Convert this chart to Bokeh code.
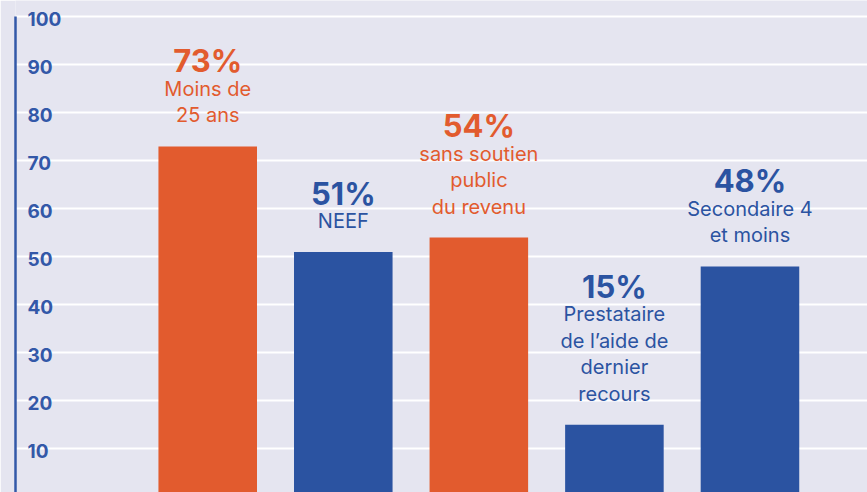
from bokeh.plotting import figure
from bokeh.models import ColumnDataSource, Range1d, FixedTicker
from bokeh.core.properties import value
from bokeh.embed import file_html
from bokeh.resources import INLINE

# ---- data ----
CATEGORIES = ["Moins de 25 ans", "NEEF", "Sans soutien public du revenu",
              "Prestataire de l’aide de dernier recours", "Secondaire 4 et moins"]
VALUES = [73, 51, 54, 15, 48]
PCT_LABELS = ["73%", "51%", "54%", "15%", "48%"]
SUB_LABELS = [["Moins de", "25 ans"],
              ["NEEF"],
              ["sans soutien", "public", "du revenu"],
              ["Prestataire", "de l’aide de", "dernier", "recours"],
              ["Secondaire 4", "et moins"]]
GROUPS = ["orange", "blue", "orange", "blue", "blue"]
Y_TICKS = [10, 20, 30, 40, 50, 60, 70, 80, 90, 100]
Y_TICK_LABELS = [str(t) for t in Y_TICKS]

# ---- style ----
BG = "#E5E5F0"
ORANGE = "#E25B2E"
BLUE = "#2B53A1"
AXIS_BLUE = "#3358A8"
FONT = "Inter"
W, H = 867, 492
X_START, X_END = -1.418, 4.867
Y_START, Y_END = 0.9, 103.4
GAP = 31      # px between bar top and last sub-label anchor
LH = 26.5     # sub-label line height
PL = 28       # pct anchor to first sub-label anchor

COLORS = {"orange": ORANGE, "blue": BLUE}
X = list(range(len(CATEGORIES)))

p = figure(width=W, height=H, output_backend="svg", toolbar_location=None,
           x_range=Range1d(X_START, X_END), y_range=Range1d(Y_START, Y_END),
           min_border_left=15, min_border_right=0, min_border_top=0, min_border_bottom=0)
p.background_fill_color = BG
p.border_fill_color = BG
p.outline_line_color = None

p.xaxis.visible = False
p.xgrid.visible = False

p.yaxis.ticker = FixedTicker(ticks=[])
p.yaxis.major_tick_line_color = None
p.yaxis.minor_tick_line_color = None
p.yaxis.major_label_text_font_size = "0px"
p.yaxis.major_label_standoff = 0
p.yaxis.axis_line_color = AXIS_BLUE
p.yaxis.axis_line_width = 2.5
p.yaxis.bounds = (0, Y_TICKS[-1])

p.ygrid.ticker = FixedTicker(ticks=Y_TICKS)
p.ygrid.grid_line_color = "white"
p.ygrid.grid_line_width = 2

bars = ColumnDataSource(dict(x=X, top=VALUES, color=[COLORS[g] for g in GROUPS]))
p.vbar(x="x", top="top", bottom=0, width=0.727, fill_color="color", line_color=None, source=bars)

# tick labels
tick_src = ColumnDataSource(dict(x=[X_START] * len(Y_TICKS), y=Y_TICKS, text=Y_TICK_LABELS))
p.text(x="x", y="y", text="text", source=tick_src, x_offset=12, y_offset=2,
       text_font=value(FONT), text_font_style="bold", text_font_size="19px",
       text_color=AXIS_BLUE, text_align="left", text_baseline="alphabetic")

# bar annotations
pct = dict(x=[], y=[], text=[], yo=[], color=[])
sub = dict(x=[], y=[], text=[], yo=[], color=[])
for i, (v, pl, lines, g) in enumerate(zip(VALUES, PCT_LABELS, SUB_LABELS, GROUPS)):
    n = len(lines)
    for j, line in enumerate(lines):
        sub["x"].append(X[i]); sub["y"].append(v); sub["text"].append(line)
        sub["yo"].append(-(GAP + (n - 1 - j) * LH)); sub["color"].append(COLORS[g])
    pct["x"].append(X[i]); pct["y"].append(v); pct["text"].append(pl)
    pct["yo"].append(-(GAP + (n - 1) * LH + PL)); pct["color"].append(COLORS[g])

p.text(x="x", y="y", text="text", y_offset="yo", source=ColumnDataSource(sub),
       text_font=value(FONT), text_font_size="20px", text_color="color",
       text_align="center", text_baseline="alphabetic")
p.text(x="x", y="y", text="text", y_offset="yo", source=ColumnDataSource(pct),
       text_font=value(FONT), text_font_style="bold", text_font_size="31px", text_color="color",
       text_align="center", text_baseline="alphabetic")

open("out.html", "w").write(file_html(p, INLINE))
